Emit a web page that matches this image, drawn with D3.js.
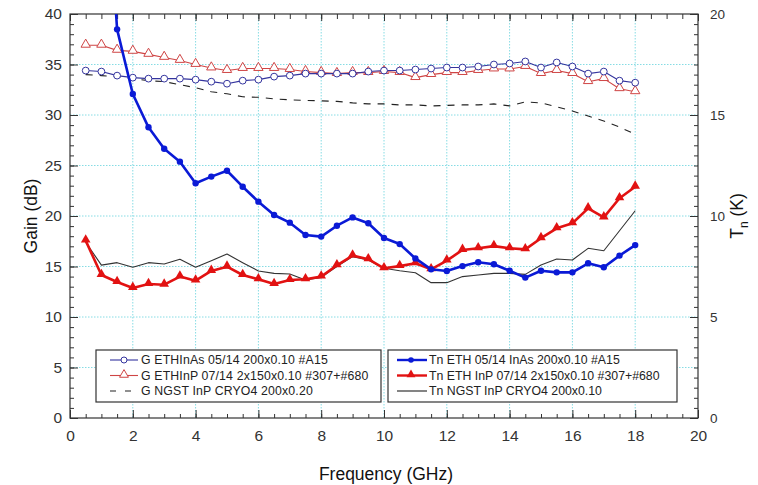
<!DOCTYPE html>
<html>
<head>
<meta charset="utf-8">
<script src="https://cdn.jsdelivr.net/npm/d3@7"></script>
<style>
  html, body { margin: 0; padding: 0; background: #fff; }
  svg { display: block; font-family: "Liberation Sans", Arial, sans-serif; }
</style>
</head>
<body>
<svg id="chart" width="758" height="485"></svg>
<script>
// Frequency grid (GHz), 0.5 GHz steps from 0.5 to 18
const freq = d3.range(1, 37).map(i => i * 0.5);

// Gain (dB), left axis
const gainEthInAs = [34.4, 34.3, 33.9, 33.7, 33.6, 33.6, 33.6, 33.5, 33.3, 33.1, 33.4, 33.5,
  33.8, 33.9, 34.1, 34.1, 34.1, 34.1, 34.3, 34.4, 34.4, 34.5, 34.6, 34.7,
  34.7, 34.8, 35.0, 35.1, 35.3, 34.7, 35.2, 34.8, 34.1, 34.3, 33.4, 33.2];
const gainEthInP = [36.9, 36.9, 36.4, 36.3, 36.0, 35.7, 35.4, 35.0, 34.65, 34.4, 34.6, 34.6,
  34.6, 34.5, 34.3, 34.2, 34.1, 34.2, 34.2, 34.3, 34.2, 33.7, 34.0, 34.2,
  34.2, 34.4, 34.55, 34.55, 34.8, 34.1, 34.4, 34.1, 33.3, 33.6, 32.6, 32.3];
const gainNgst = [34.0, 33.9, 33.8, 33.6, 33.4, 33.3, 33.0, 32.7, 32.3, 32.1, 31.8, 31.75,
  31.6, 31.5, 31.45, 31.4, 31.35, 31.2, 31.1, 31.1, 31.0, 31.0, 30.9, 30.95,
  31.0, 31.0, 31.1, 30.9, 31.3, 31.2, 30.8, 30.4, 29.9, 29.4, 28.8, 28.1];

// Noise temperature Tn (K), right axis
const tnFreq = freq.slice(1); // InAs Tn series starts at 1 GHz
const tnEthInAs = [31.0, 19.24, 16.04, 14.39, 13.33, 12.69, 11.62, 11.95, 12.24, 11.45, 10.71,
  10.05, 9.67, 9.06, 8.98, 9.52, 9.93, 9.64, 8.91, 8.61, 7.9, 7.36, 7.28,
  7.52, 7.71, 7.61, 7.29, 6.95, 7.29, 7.21, 7.21, 7.66, 7.46, 8.04, 8.56];
const tnEthInP = [8.78, 7.08, 6.73, 6.44, 6.63, 6.6, 7.0, 6.8, 7.28, 7.49, 7.08, 6.87,
  6.63, 6.83, 6.87, 7.0, 7.56, 8.04, 7.86, 7.41, 7.52, 7.66, 7.36, 7.79,
  8.32, 8.4, 8.51, 8.4, 8.35, 8.9, 9.39, 9.64, 10.38, 9.93, 10.88, 11.45];
const tnNgst = [8.7, 7.57, 7.69, 7.46, 7.69, 7.62, 7.86, 7.46, 7.79, 8.12, 7.69, 7.28,
  7.16, 7.13, 6.83, 6.96, 7.5, 7.99, 7.82, 7.41, 7.29, 7.19, 6.7, 6.7,
  7.0, 7.08, 7.16, 7.16, 7.11, 7.57, 7.87, 7.82, 8.4, 8.28, 9.27, 10.26];

const xTicks = d3.range(0, 21, 2);
const gainTicks = d3.range(0, 41, 5);
const tnTicks = d3.range(0, 21, 5);

const legendGain = ["G ETHInAs 05/14 200x0.10 #A15", "G ETHInP 07/14 2x150x0.10 #307+#680", "G NGST InP CRYO4 200x0.20"];
const legendTn = ["Tn ETH 05/14 InAs 200x0.10 #A15", "Tn ETH InP 07/14 2x150x0.10 #307+#680", "Tn NGST InP CRYO4 200x0.10"];

const svg = d3.select("#chart");
const L = 70, R = 698, T = 14, B = 418;

const x = d3.scaleLinear().domain([0, 20]).range([L, R]);
const yG = d3.scaleLinear().domain([0, 40]).range([B, T]);
const yT = d3.scaleLinear().domain([0, 20]).range([B, T]);

const C = {
  gInAs: "#34349e", gInP: "#cf4545", gNgst: "#222",
  tInAs: "#0a1ad6", tInP: "#e21212", tNgst: "#333",
  grid: "#86dce4", axis: "#333", text: "#333"
};

svg.append("defs").append("clipPath").attr("id", "plotClip")
  .append("rect").attr("x", L).attr("y", T).attr("width", R - L).attr("height", B - T);

// dotted grid
const grid = svg.append("g");
grid.selectAll("line.gx").data(xTicks.filter(v => v > 0 && v < 20)).join("line")
  .attr("x1", d => x(d)).attr("x2", d => x(d)).attr("y1", T).attr("y2", B)
  .attr("stroke", C.grid).attr("stroke-width", 1).attr("stroke-dasharray", "1.5,1.5");
grid.selectAll("line.gy").data(gainTicks.filter(v => v > 0 && v < 40)).join("line")
  .attr("y1", d => yG(d)).attr("y2", d => yG(d)).attr("x1", L).attr("x2", R)
  .attr("stroke", C.grid).attr("stroke-width", 1).attr("stroke-dasharray", "1.5,1.5");

// axes with inward ticks
function styleAxis(g) {
  g.selectAll("path.domain").remove();
  g.selectAll("line").attr("stroke", C.axis).attr("stroke-width", 1);
  g.selectAll("text").attr("fill", C.text);
}
const minorX = d3.range(0, 20.01, 0.5);
svg.append("g").attr("transform", `translate(0,${B})`)
  .call(d3.axisBottom(x).tickValues(minorX).tickSize(-4).tickFormat(""))
  .call(styleAxis);
svg.append("g").attr("transform", `translate(0,${B})`)
  .call(d3.axisBottom(x).tickValues(xTicks).tickSize(-8).tickPadding(12).tickFormat(d3.format("d")))
  .call(styleAxis).call(g => g.selectAll("text").attr("font-size", 15.5));
svg.append("g").attr("transform", `translate(0,${T})`)
  .call(d3.axisTop(x).tickValues(minorX).tickSize(-5).tickFormat(""))
  .call(styleAxis);
svg.append("g").attr("transform", `translate(0,${T})`)
  .call(d3.axisTop(x).tickValues(xTicks).tickSize(-7).tickFormat(""))
  .call(styleAxis);

svg.append("g").attr("transform", `translate(${L},0)`)
  .call(d3.axisLeft(yG).tickValues(d3.range(0, 41, 1)).tickSize(-4).tickFormat(""))
  .call(styleAxis);
svg.append("g").attr("transform", `translate(${L},0)`)
  .call(d3.axisLeft(yG).tickValues(gainTicks).tickSize(-8).tickPadding(8).tickFormat(d3.format("d")))
  .call(styleAxis).call(g => g.selectAll("text").attr("font-size", 15.5));

svg.append("g").attr("transform", `translate(${R},0)`)
  .call(d3.axisRight(yT).tickValues(d3.range(0, 20.01, 0.5)).tickSize(-4).tickFormat(""))
  .call(styleAxis);
svg.append("g").attr("transform", `translate(${R},0)`)
  .call(d3.axisRight(yT).tickValues(tnTicks).tickSize(-8).tickPadding(12).tickFormat(d3.format("d")))
  .call(styleAxis).call(g => g.selectAll("text").attr("font-size", 13.5));

// plot frame
svg.append("rect").attr("x", L).attr("y", T).attr("width", R - L).attr("height", B - T)
  .attr("fill", "none").attr("stroke", C.axis).attr("stroke-width", 1.2);

// axis titles
svg.append("text").attr("transform", `translate(37,${(T + B) / 2}) rotate(-90)`)
  .attr("text-anchor", "middle").attr("font-size", 17.5).attr("fill", "#111").text("Gain (dB)");
const tnTitle = svg.append("text").attr("transform", `translate(743,${(T + B) / 2}) rotate(-90)`)
  .attr("text-anchor", "middle").attr("font-size", 17.5).attr("fill", "#111");
tnTitle.append("tspan").text("T");
tnTitle.append("tspan").attr("font-size", 12).attr("dy", 5).text("n");
tnTitle.append("tspan").attr("dy", -5).text(" (K)");
svg.append("text").attr("x", (L + R) / 2 + 2).attr("y", 480)
  .attr("text-anchor", "middle").attr("font-size", 17.5).attr("fill", "#111").text("Frequency (GHz)");

// series
const plot = svg.append("g").attr("clip-path", "url(#plotClip)");
const tri = d3.symbol().type(d3.symbolTriangle);

function drawLine(xs, ys, yScale, color, width, dash) {
  const pts = xs.map((f, i) => [x(f), yScale(ys[i])]);
  plot.append("path").datum(pts)
    .attr("d", d3.line())
    .attr("fill", "none").attr("stroke", color).attr("stroke-width", width)
    .attr("stroke-dasharray", dash || null).attr("stroke-linejoin", "round");
  return pts;
}

// gain: dashed NGST, open circles InAs, open triangles InP
drawLine(freq, gainNgst, yG, C.gNgst, 1.1, "7,7");
const pGInP = drawLine(freq, gainEthInP, yG, C.gInP, 1.1);
plot.selectAll("path.gtri").data(pGInP).join("path")
  .attr("transform", d => `translate(${d[0]},${d[1] - 0.8})`)
  .attr("d", tri.size(38)()).attr("fill", "#fff").attr("stroke", C.gInP).attr("stroke-width", 1);
const pGInAs = drawLine(freq, gainEthInAs, yG, C.gInAs, 1.1);
plot.selectAll("circle.gcir").data(pGInAs).join("circle")
  .attr("cx", d => d[0]).attr("cy", d => d[1]).attr("r", 3.4)
  .attr("fill", "#fff").attr("stroke", C.gInAs).attr("stroke-width", 1);

// noise temperature: thin NGST, filled triangles InP, filled circles InAs
drawLine(freq, tnNgst, yT, C.tNgst, 1.1);
const pTInP = drawLine(freq, tnEthInP, yT, C.tInP, 2.6);
plot.selectAll("path.ttri").data(pTInP).join("path")
  .attr("transform", d => `translate(${d[0]},${d[1] - 0.8})`)
  .attr("d", tri.size(40)()).attr("fill", C.tInP);
const pTInAs = drawLine(tnFreq, tnEthInAs, yT, C.tInAs, 2.6);
plot.selectAll("circle.tcir").data(pTInAs).join("circle")
  .attr("cx", d => d[0]).attr("cy", d => d[1]).attr("r", 3.2).attr("fill", C.tInAs);

// legends
function legendBox(x0, y0, w, h) {
  svg.append("rect").attr("x", x0).attr("y", y0).attr("width", w).attr("height", h)
    .attr("fill", "#fff").attr("stroke", "#333").attr("stroke-width", 1.2);
}
const rowY = [360, 375.5, 391];
legendBox(96, 350, 285, 52);
legendBox(388, 350, 289, 52);

const lg = svg.append("g").attr("font-size", 12.3).attr("fill", "#222");
// gain legend samples
lg.append("line").attr("x1", 110).attr("x2", 138).attr("y1", rowY[0]).attr("y2", rowY[0])
  .attr("stroke", C.gInAs).attr("stroke-width", 1.1);
lg.append("circle").attr("cx", 124).attr("cy", rowY[0]).attr("r", 3)
  .attr("fill", "#fff").attr("stroke", C.gInAs);
lg.append("line").attr("x1", 110).attr("x2", 138).attr("y1", rowY[1]).attr("y2", rowY[1])
  .attr("stroke", C.gInP).attr("stroke-width", 1.1);
lg.append("path").attr("transform", `translate(124,${rowY[1] - 0.8})`)
  .attr("d", tri.size(34)()).attr("fill", "#fff").attr("stroke", C.gInP);
lg.append("line").attr("x1", 110).attr("x2", 138).attr("y1", rowY[2]).attr("y2", rowY[2])
  .attr("stroke", C.gNgst).attr("stroke-width", 1.1).attr("stroke-dasharray", "6,9");
lg.selectAll("text.lg").data(legendGain).join("text")
  .attr("x", 141).attr("y", (d, i) => rowY[i] + 4.3).attr("letter-spacing", 0.15).text(d => d);

// noise legend samples
lg.append("line").attr("x1", 397).attr("x2", 427).attr("y1", rowY[0]).attr("y2", rowY[0])
  .attr("stroke", C.tInAs).attr("stroke-width", 2.4);
lg.append("circle").attr("cx", 411).attr("cy", rowY[0]).attr("r", 2.8).attr("fill", C.tInAs);
lg.append("line").attr("x1", 397).attr("x2", 427).attr("y1", rowY[1]).attr("y2", rowY[1])
  .attr("stroke", C.tInP).attr("stroke-width", 2.4);
lg.append("path").attr("transform", `translate(411,${rowY[1] - 0.8})`)
  .attr("d", tri.size(34)()).attr("fill", C.tInP);
lg.append("line").attr("x1", 397).attr("x2", 427).attr("y1", rowY[2]).attr("y2", rowY[2])
  .attr("stroke", C.tNgst).attr("stroke-width", 1.2);
lg.selectAll("text.lt").data(legendTn).join("text")
  .attr("x", 429).attr("y", (d, i) => rowY[i] + 4.3).attr("letter-spacing", 0).text(d => d);
</script>
</body>
</html>
